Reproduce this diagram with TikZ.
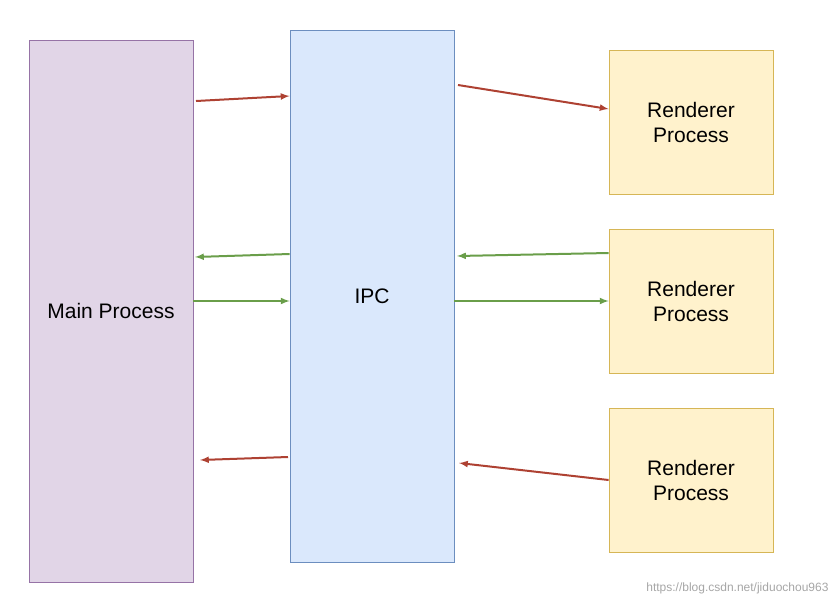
\documentclass[tikz,border=0pt]{standalone}
\usepackage{fontspec}
\setmainfont{Liberation Sans}
\usetikzlibrary{calc,arrows}
\definecolor{mainfill}{HTML}{E1D5E7}
\definecolor{maindraw}{HTML}{9673A6}
\definecolor{ipcfill}{HTML}{DAE8FC}
\definecolor{ipcdraw}{HTML}{6C8EBF}
\definecolor{rendfill}{HTML}{FFF2CC}
\definecolor{renddraw}{HTML}{D6B656}
\definecolor{redarrow}{HTML}{AE4132}
\definecolor{greenarrow}{HTML}{6A9E4A}
\begin{document}
\begin{tikzpicture}[>=latex,x=1pt,y=-1pt,
	box/.style={draw,line width=0.8pt,minimum width=164pt,inner sep=0pt,align=center,font=\fontsize{21}{25}\selectfont},
	red/.style={->,line width=2pt,draw=redarrow},
	green/.style={->,line width=2pt,draw=greenarrow}]

	\useasboundingbox (0,0) rectangle (840,606);

	% the three columns of boxes
	\node[box,fill=mainfill,draw=maindraw,minimum height=542pt] (main) at (111,311) {Main Process};
	\node[box,fill=ipcfill,draw=ipcdraw,minimum height=532pt] (ipc) at (372,296) {IPC};
	\node[box,fill=rendfill,draw=renddraw,minimum height=144pt] (r1) at (691,122) {Renderer\\Process};
	\node[box,fill=rendfill,draw=renddraw,minimum height=144pt] (r2) at (691,301) {Renderer\\Process};
	\node[box,fill=rendfill,draw=renddraw,minimum height=144pt] (r3) at (691,480) {Renderer\\Process};

	% define the arrow ends
	\coordinate (A) at (196,101);
	\coordinate (A1) at (ipc.west |- 0,96);
	\coordinate (B) at (458,85);
	\coordinate (B1) at (r1.west |- 0,109);
	\coordinate (C) at (ipc.west |- 0,254);
	\coordinate (C1) at (195,257);
	\coordinate (D) at (main.east |- 0,301);
	\coordinate (D1) at (ipc.west |- 0,301);
	\coordinate (E) at (r2.west |- 0,253);
	\coordinate (E1) at (457,256);
	\coordinate (F) at (ipc.east |- 0,301);
	\coordinate (F1) at (r2.west |- 0,301);
	\coordinate (G) at (288,457);
	\coordinate (G1) at (200,460);
	\coordinate (H) at (r3.west |- 0,480);
	\coordinate (H1) at (459,463);

	% draw the messages
	\draw[red] (A) -- (A1);
	\draw[red] (B) -- (B1);
	\draw[green] (C) -- (C1);
	\draw[green] (D) -- (D1);
	\draw[green] (E) -- (E1);
	\draw[green] (F) -- (F1);
	\draw[red] (G) -- (G1);
	\draw[red] (H) -- (H1);

	\node[text=black!35,font=\fontsize{12}{14}\selectfont,anchor=east] (url) at (832,588) {https://blog.csdn.net/jiduochou963};

\end{tikzpicture}
\end{document}
